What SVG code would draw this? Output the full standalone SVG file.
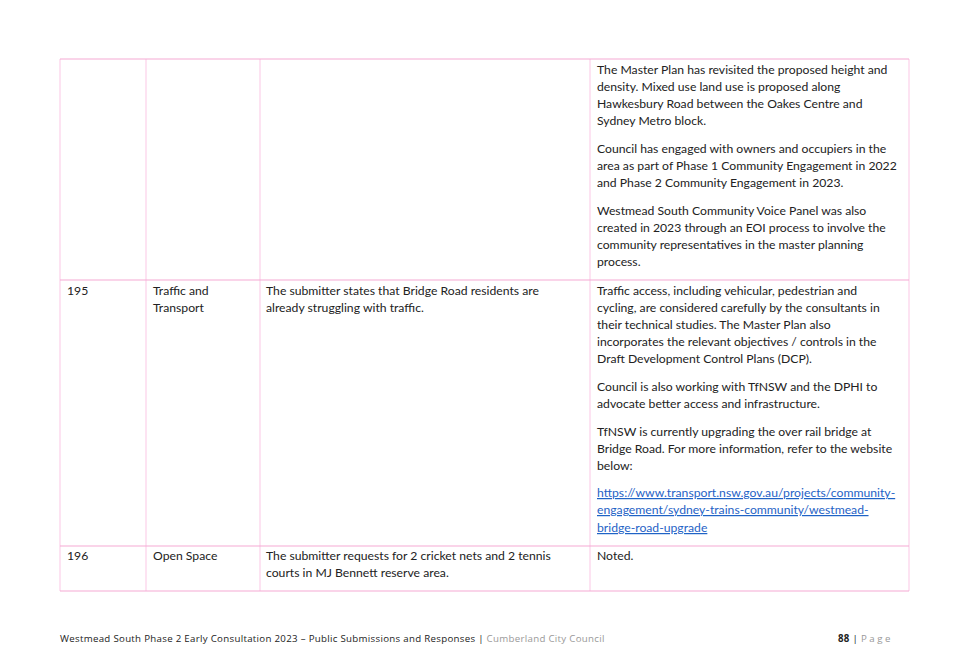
<svg xmlns="http://www.w3.org/2000/svg" width="956" height="661" viewBox="0 0 956 661">
<style>
.t{font-family:Lato,"Open Sans",sans-serif;font-size:12.2px;fill:#222}
.h{stroke:#f5a9d3;stroke-width:1.2}
.v{stroke:#fcd0ea;stroke-width:1.2}
.lk{fill:#1f63c6;text-decoration:underline}
.f{font-family:"Open Sans",sans-serif;font-size:9.7px;fill:#222;letter-spacing:0.3px}
.g{fill:#999}
</style>
<rect width="956" height="661" fill="#fff"/>
<g id="grid">
<line class="v" x1="60" y1="59" x2="60" y2="591"/>
<line class="v" x1="146" y1="59" x2="146" y2="591"/>
<line class="v" x1="260" y1="59" x2="260" y2="591"/>
<line class="v" x1="590" y1="59" x2="590" y2="591"/>
<line class="v" x1="909" y1="59" x2="909" y2="591"/>
<line class="h" x1="60" y1="59" x2="909" y2="59"/>
<line class="h" x1="60" y1="280" x2="909" y2="280"/>
<line class="h" x1="60" y1="546" x2="909" y2="546"/>
<line class="h" x1="60" y1="591" x2="909" y2="591"/>
</g>
<g id="row194">
<text class="t" x="597" y="74">The Master Plan has revisited the proposed height and</text>
<text class="t" x="597" y="91">density. Mixed use land use is proposed along</text>
<text class="t" x="597" y="108">Hawkesbury Road between the Oakes Centre and</text>
<text class="t" x="597" y="125">Sydney Metro block.</text>
<text class="t" x="597" y="153">Council has engaged with owners and occupiers in the</text>
<text class="t" x="597" y="170">area as part of Phase 1 Community Engagement in 2022</text>
<text class="t" x="597" y="187">and Phase 2 Community Engagement in 2023.</text>
<text class="t" x="597" y="215">Westmead South Community Voice Panel was also</text>
<text class="t" x="597" y="232">created in 2023 through an EOI process to involve the</text>
<text class="t" x="597" y="249">community representatives in the master planning</text>
<text class="t" x="597" y="266">process.</text>
</g>
<g id="row195">
<text class="t" x="67" y="295">195</text>
<text class="t" x="153" y="295">Traffic and</text>
<text class="t" x="153" y="312">Transport</text>
<text class="t" x="266" y="295">The submitter states that Bridge Road residents are</text>
<text class="t" x="266" y="312">already struggling with traffic.</text>
<text class="t" x="597" y="295">Traffic access, including vehicular, pedestrian and</text>
<text class="t" x="597" y="312">cycling, are considered carefully by the consultants in</text>
<text class="t" x="597" y="329">their technical studies. The Master Plan also</text>
<text class="t" x="597" y="346">incorporates the relevant objectives / controls in the</text>
<text class="t" x="597" y="363">Draft Development Control Plans (DCP).</text>
<text class="t" x="597" y="391">Council is also working with TfNSW and the DPHI to</text>
<text class="t" x="597" y="408">advocate better access and infrastructure.</text>
<text class="t" x="597" y="436">TfNSW is currently upgrading the over rail bridge at</text>
<text class="t" x="597" y="453">Bridge Road. For more information, refer to the website</text>
<text class="t" x="597" y="470">below:</text>
<text class="t lk" x="597" y="497">https://www.transport.nsw.gov.au/projects/community-</text>
<text class="t lk" x="597" y="514">engagement/sydney-trains-community/westmead-</text>
<text class="t lk" x="597" y="532">bridge-road-upgrade</text>
</g>
<g id="row196">
<text class="t" x="67" y="560">196</text>
<text class="t" x="153" y="560">Open Space</text>
<text class="t" x="266" y="560">The submitter requests for 2 cricket nets and 2 tennis</text>
<text class="t" x="266" y="577">courts in MJ Bennett reserve area.</text>
<text class="t" x="597" y="560">Noted.</text>
</g>
<g id="footer">
<text class="f" x="60" y="642">Westmead South Phase 2 Early Consultation 2023 – Public Submissions and Responses | <tspan class="g">Cumberland City Council</tspan></text>
<text class="f" x="838" y="642"><tspan font-weight="bold">88</tspan> | <tspan class="g" letter-spacing="2.5">Page</tspan></text>
</g>
</svg>
